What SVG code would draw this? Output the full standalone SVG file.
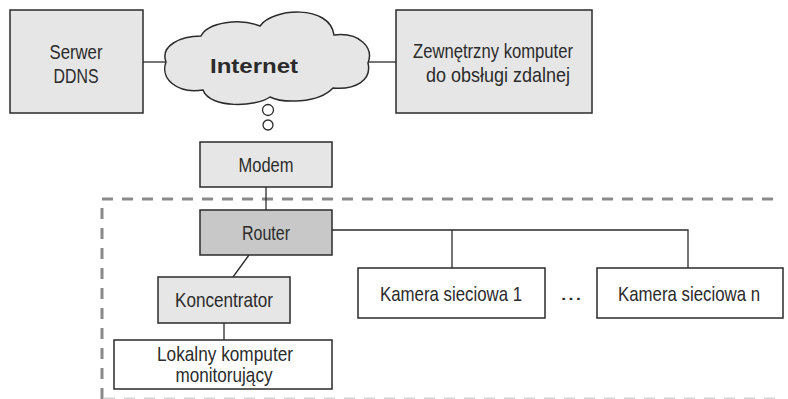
<svg xmlns="http://www.w3.org/2000/svg" width="788" height="399" viewBox="0 0 788 399">
<defs>
<style>
.box{fill:#e6e6e6;stroke:#2b2b2b;stroke-width:1.5}
.wbox{fill:#ffffff;stroke:#2b2b2b;stroke-width:1.5}
.dbox{fill:#c8c8c8;stroke:#2b2b2b;stroke-width:1.5}
.t{font-family:"Liberation Sans Narrow","Liberation Sans",Arial,sans-serif;font-size:21px;fill:#2b2b2b;text-anchor:middle}
.b{font-weight:bold}
.ln{stroke:#2b2b2b;stroke-width:1.3;fill:none}
.dash{stroke:#8a8a8a;stroke-width:3;fill:none;stroke-dasharray:11 9}
</style>
</defs>
<rect width="788" height="399" fill="#ffffff"/>
<g id="boundary">
<path class="dash" d="M102,399 L102,199 L782,199"/>
<path class="dash" d="M104,399 L782,399" style="stroke:#d4d4d4"/>
</g>
<g id="connectors">
<line class="ln" x1="143" y1="62" x2="166" y2="62"/>
<line class="ln" x1="367" y1="62" x2="396" y2="62"/>
<line class="ln" x1="266" y1="187" x2="266" y2="210"/>
<polyline class="ln" points="332,230 688,230 688,268"/>
<line class="ln" x1="452" y1="230" x2="452" y2="268"/>
<line class="ln" x1="249" y1="255" x2="233" y2="277"/>
<line class="ln" x1="224" y1="323" x2="224" y2="340"/>
</g>
<g id="serwer">
<rect class="box" x="10" y="10" width="133" height="103"/>
<text class="t" x="76" y="59" textLength="53" lengthAdjust="spacingAndGlyphs">Serwer</text>
<text class="t" x="76" y="83" textLength="45" lengthAdjust="spacingAndGlyphs">DDNS</text>
</g>
<g id="internet">
<path class="box" d="M166,62 C160,46 180,36 201,36 C208,22 240,18 260,26 C272,8 330,4 334,35 C360,32 374,48 368,63 C372,80 356,90 333,88 C318,104 282,103 270,97 C256,107 210,109 203,90 C176,94 160,78 166,62 Z"/>
<text class="t b" x="254" y="73" textLength="88" lengthAdjust="spacingAndGlyphs">Internet</text>
<circle cx="268" cy="110" r="5.5" fill="#ffffff" stroke="#2b2b2b" stroke-width="1.3"/>
<circle cx="268" cy="125" r="5" fill="#ffffff" stroke="#2b2b2b" stroke-width="1.3"/>
</g>
<g id="zewnetrzny">
<rect class="box" x="396" y="10" width="196" height="103"/>
<text class="t" x="493" y="58" textLength="160" lengthAdjust="spacingAndGlyphs">Zewnętrzny komputer</text>
<text class="t" x="498" y="82" textLength="144" lengthAdjust="spacingAndGlyphs">do obsługi zdalnej</text>
</g>
<g id="modem">
<rect class="box" x="200" y="142" width="132" height="45"/>
<text class="t" x="266" y="172" textLength="55" lengthAdjust="spacingAndGlyphs">Modem</text>
</g>
<g id="router">
<rect class="dbox" x="200" y="210" width="132" height="45"/>
<text class="t" x="266" y="240" textLength="48" lengthAdjust="spacingAndGlyphs">Router</text>
</g>
<g id="kamera1">
<rect class="wbox" x="358" y="268" width="187" height="50"/>
<text class="t" x="451" y="301" textLength="142" lengthAdjust="spacingAndGlyphs">Kamera sieciowa 1</text>
</g>
<g id="dots">
<text class="t" x="571" y="300" textLength="22" lengthAdjust="spacingAndGlyphs">...</text>
</g>
<g id="kameran">
<rect class="wbox" x="597" y="268" width="186" height="50"/>
<text class="t" x="689" y="301" textLength="142" lengthAdjust="spacingAndGlyphs">Kamera sieciowa n</text>
</g>
<g id="koncentrator">
<rect class="box" x="158" y="277" width="132" height="46"/>
<text class="t" x="224" y="307" textLength="98" lengthAdjust="spacingAndGlyphs">Koncentrator</text>
</g>
<g id="lokalny">
<rect class="wbox" x="114" y="340" width="218" height="49"/>
<text class="t" x="225" y="361" textLength="136" lengthAdjust="spacingAndGlyphs">Lokalny komputer</text>
<text class="t" x="224" y="382" textLength="97" lengthAdjust="spacingAndGlyphs">monitorujący</text>
</g>
</svg>
